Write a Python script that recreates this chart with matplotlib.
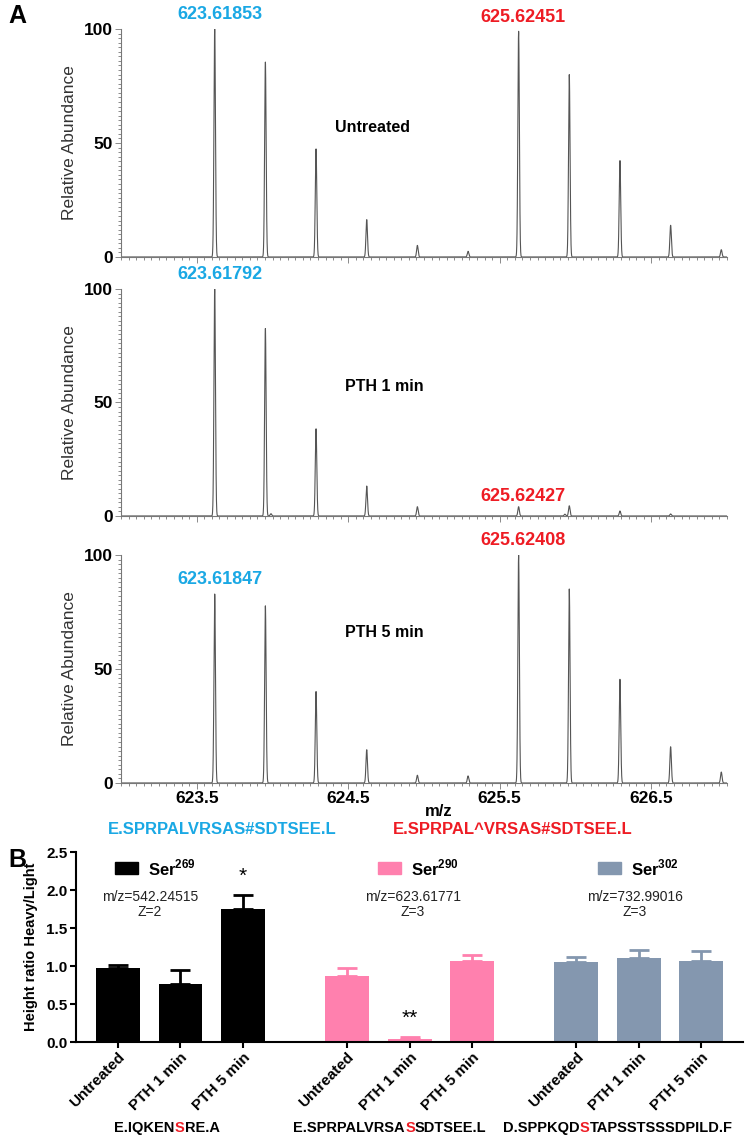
import numpy as np
import matplotlib
matplotlib.use('Agg')
import matplotlib.pyplot as plt
from matplotlib.patches import Rectangle
from matplotlib.ticker import MultipleLocator

plt.rcParams['font.family'] = ['Liberation Sans', 'DejaVu Sans']
plt.rcParams['mathtext.fontset'] = 'custom'
plt.rcParams['mathtext.rm'] = 'Liberation Sans'
plt.rcParams['mathtext.bf'] = 'Liberation Sans:bold'
NARROW = ['Liberation Sans Narrow', 'Liberation Sans', 'DejaVu Sans']

BLUE = '#1AA8E4'
RED = '#EE1C24'

# ---- panel A: isotope envelopes (m/z, relative abundance) ----
light_mz = [623.6185, 623.9530, 624.2874, 624.6219, 624.9563, 625.2908]
heavy_mz = [625.6245, 625.9590, 626.2934, 626.6279, 626.9623]

untreated_light = [100, 85.5, 47.4, 16.4, 5.1, 2.5]
untreated_heavy = [99, 80.0, 42.3, 13.9, 3.2]
pth1_light = [100, 82.6, 38.4, 13.2, 4.1, 0.0]
pth1_heavy = [4.1, 4.5, 2.2, 0.9, 0.0]
pth1_extra_mz = [623.99, 625.93]
pth1_extra = [1.0, 0.8]
pth5_light = [82.9, 77.7, 40.1, 14.6, 3.4, 3.1]
pth5_heavy = [100, 85.1, 45.5, 15.9, 4.8]

conditions = ['Untreated', 'PTH 1 min', 'PTH 5 min']
light_labels = ['623.61853', '623.61792', '623.61847']
heavy_labels = ['625.62451', '625.62427', '625.62408']

# ---- panel B: heavy/light ratio ----
groups = ['Ser269', 'Ser290', 'Ser302']
sup = ['269', '290', '302']
ratio = [[0.98, 0.765, 1.75], [0.87, 0.044, 1.06], [1.05, 1.11, 1.07]]
err = [[0.03, 0.18, 0.19], [0.11, 0.022, 0.08], [0.075, 0.10, 0.13]]
colors = ['#000000', '#FF80AE', '#8497AF']
mz_info = ['m/z=542.24515\nZ=2', 'm/z=623.61771\nZ=3', 'm/z=732.99016\nZ=3']
peptides = [('E.IQKEN', 'S', 'RE.A'), ('E.SPRPALVRSA', 'S', 'SDTSEE.L'),
            ('D.SPPKQD', 'S', 'TAPSSTSSSDPILD.F')]
signif = ['', '', '*', '', '**', '', '', '', '']

fig = plt.figure(figsize=(7.45, 11.37), dpi=100)
W, H = 745.0, 1137.0


def ax_px(x0, y_top, x1, y_bot):
    return fig.add_axes([x0 / W, 1 - y_bot / H, (x1 - x0) / W, (y_bot - y_top) / H])


grid = np.linspace(623.0, 627.0, 12000)


def spectrum(mz, h):
    y = np.zeros_like(grid)
    for m, v in zip(mz, h):
        y += v * np.exp(-0.5 * ((grid - m) / 0.005) ** 2)
    return y


panels = [
    (29, 257, untreated_light, untreated_heavy, [], [], 57, 624.66),
    (289, 516, pth1_light, pth1_heavy, pth1_extra_mz, pth1_extra, 57, 624.74),
    (555, 783, pth5_light, pth5_heavy, [], [], 66, 624.74),
]
for i, (yt, yb, lh, hh, emz, eh, cy, cx) in enumerate(panels):
    ax = ax_px(121, yt, 727, yb)
    y = spectrum(light_mz + heavy_mz + emz, lh + hh + eh)
    ax.plot(grid, y, color='#555555', lw=0.8)
    ax.set_xlim(623.0, 627.0)
    ax.set_ylim(0, 100)
    for s in ['top', 'right']:
        ax.spines[s].set_visible(False)
    for s in ['left', 'bottom']:
        ax.spines[s].set_color('#777777')
        ax.spines[s].set_linewidth(0.8)
    ax.set_yticks([0, 50, 100])
    ax.yaxis.set_minor_locator(MultipleLocator(2))
    ax.xaxis.set_minor_locator(MultipleLocator(0.05))
    ax.set_xticks([623.5, 624.5, 625.5, 626.5])
    ax.tick_params(which='both', direction='out', color='#777777', width=0.6)
    ax.tick_params(which='major', length=4, pad=2)
    ax.tick_params(which='minor', length=2.5)
    for lab in ax.get_yticklabels():
        lab.set_fontfamily(NARROW)
        lab.set_fontweight('bold')
        lab.set_fontsize(12.5)
    if i < 2:
        ax.set_xticklabels([])
    else:
        for lab in ax.get_xticklabels():
            lab.set_fontfamily(NARROW)
            lab.set_fontweight('bold')
            lab.set_fontsize(12.5)
    ax.set_ylabel('Relative Abundance', fontsize=12.5, color='#333333', labelpad=5)
    ax.text(cx, cy, conditions[i], fontsize=11.5, fontweight='bold', ha='center', va='center',
            family=NARROW)
    ly = lh[0]
    ax.text(light_mz[0] + 0.035, ly + 2.5, light_labels[i], color=BLUE, fontsize=13,
            fontweight='bold', ha='center', va='bottom', family=NARROW, clip_on=False)
    hy = hh[0] + 2.5 if i != 1 else 5.0
    ax.text(heavy_mz[0] + 0.03, hy, heavy_labels[i], color=RED, fontsize=13,
            fontweight='bold', ha='center', va='bottom', family=NARROW, clip_on=False)

fig.text(425 / W, 1 - 812 / H, 'm/z', fontsize=12, fontweight='bold', ha='left', va='center')
fig.text(222 / W, 1 - 829 / H, 'E.SPRPALVRSAS#SDTSEE.L', color=BLUE, fontsize=12,
         fontweight='bold', ha='center', va='center', family=NARROW)
fig.text(513 / W, 1 - 829 / H, 'E.SPRPAL^VRSAS#SDTSEE.L', color=RED, fontsize=12,
         fontweight='bold', ha='center', va='center', family=NARROW)
fig.text(8 / W, 1 - 16 / H, 'A', fontsize=18, fontweight='bold', va='center')
fig.text(8 / W, 1 - 860 / H, 'B', fontsize=18, fontweight='bold', va='center')

# ---- panel B ----
axb = ax_px(76, 852, 743, 1042)
pos = []
for g in range(3):
    base = g * (2 + 1.667)
    pos += [base, base + 1, base + 2]
vals = [v for row in ratio for v in row]
errs = [e for row in err for e in row]
cols = [colors[g] for g in range(3) for _ in range(3)]
axb.bar(pos, vals, width=0.7, color=cols, zorder=2)
for p, v, e, c in zip(pos, vals, errs, cols):
    axb.errorbar(p, v, yerr=[[0], [e]], fmt='none', ecolor=c, elinewidth=2,
                 capsize=7, capthick=2, zorder=1)
for p, v, e, s in zip(pos, vals, errs, signif):
    if s:
        axb.text(p, v + e + 0.12, s, ha='center', va='bottom', fontsize=15)
axb.set_xlim(-0.67, 10.0)
axb.set_ylim(0, 2.5)
axb.set_yticks([0, 0.5, 1.0, 1.5, 2.0, 2.5])
axb.set_yticklabels(['0.0', '0.5', '1.0', '1.5', '2.0', '2.5'])
axb.set_xticks(pos)
axb.set_xticklabels(conditions * 3, rotation=45, ha='right', rotation_mode='anchor',
                    fontsize=11, fontweight='bold')
for lab in axb.get_yticklabels():
    lab.set_fontweight('bold')
    lab.set_fontsize(11)
for s in ['top', 'right']:
    axb.spines[s].set_visible(False)
for s in ['left', 'bottom']:
    axb.spines[s].set_linewidth(1.5)
axb.tick_params(direction='out', width=1.5, length=4, pad=2)
axb.set_ylabel('Height ratio Heavy/Light', fontsize=10.5, fontweight='bold', labelpad=6)

leg_x = [-0.05, 4.16, 7.68]
info_x = [0.51, 4.72, 8.27]
seq_x = [167, 390, 618]
for g in range(3):
    axb.add_patch(Rectangle((leg_x[g], 2.21), 0.37, 0.16, color=colors[g], clip_on=False))
    axb.text(leg_x[g] + 0.53, 2.29, r'Ser$^{\mathbf{' + sup[g] + '}}$', fontsize=12,
             fontweight='bold', va='center', ha='left')
    axb.text(info_x[g], 1.81, mz_info[g], fontsize=10, ha='center', va='center',
             family=NARROW, color='#222222', linespacing=1.1)

# peptide sequences with the modified serine in red
fig.canvas.draw()
r = fig.canvas.get_renderer()
kw = dict(fontsize=10.5, fontweight='bold', family=NARROW, ha='left', va='center')


def text_width(s):
    t = fig.text(0, 0, s, **kw)
    w = t.get_window_extent(r).width
    t.remove()
    return w


for g in range(3):
    pre, mid, post = peptides[g]
    full = text_width(pre + mid + post)
    off_mid = text_width(pre + mid) - text_width(mid)
    off_post = full - text_width(post)
    x0 = seq_x[g] - full / 2
    y0 = 1 - 1128 / H
    fig.text(x0 / W, y0, pre, color='black', **kw)
    fig.text((x0 + off_mid) / W, y0, mid, color=RED, **kw)
    fig.text((x0 + off_post) / W, y0, post, color='black', **kw)

fig.savefig('out.png', dpi=100)
